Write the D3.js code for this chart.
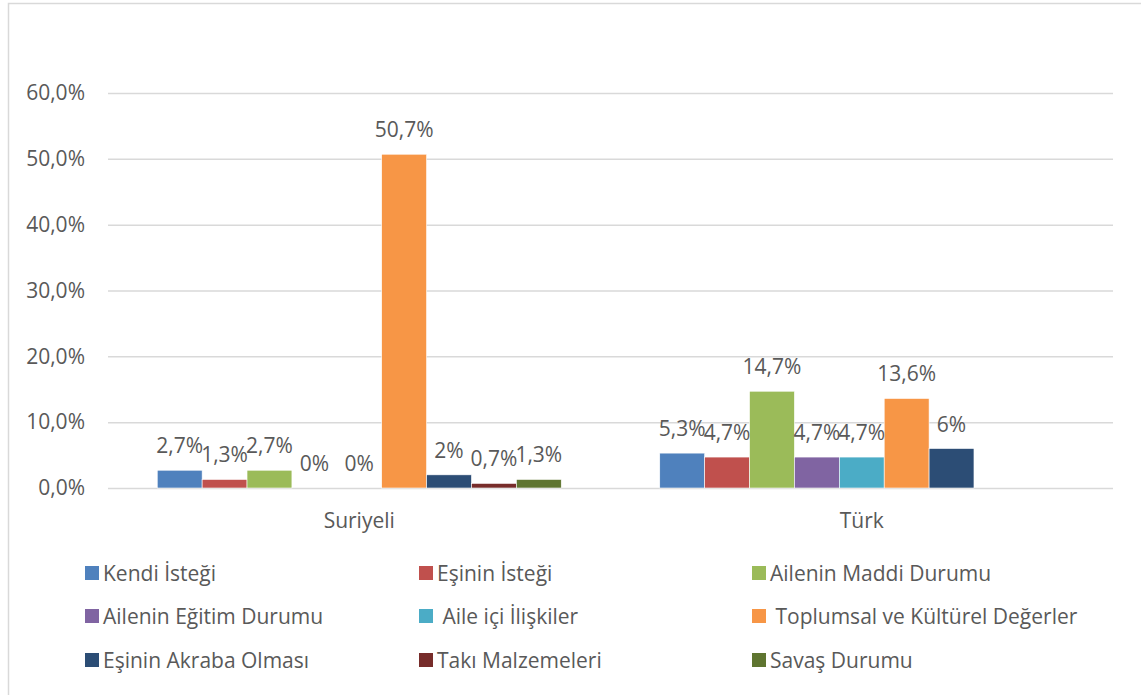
<!DOCTYPE html>
<html lang="tr">
<head>
<meta charset="utf-8" />
<script src="https://d3js.org/d3.v7.min.js"></script>
<style>
  html, body { margin: 0; padding: 0; background: #fff; }
  svg { font-family: "Open Sans", sans-serif; }
  .tick text, .lbl, .leg text { fill: #595959; }
</style>
</head>
<body>
<svg id="chart" width="1141" height="695"></svg>
<script>
var categories = ["Suriyeli", "Türk"];
var seriesNames = ["Kendi İsteği", "Eşinin İsteği", "Ailenin Maddi Durumu",
  "Ailenin Eğitim Durumu", " Aile içi İlişkiler", " Toplumsal ve Kültürel Değerler",
  "Eşinin Akraba Olması", "Takı Malzemeleri", "Savaş Durumu"];
var seriesColors = ["#4f81bd", "#c0504d", "#9bbb59", "#8064a2", "#4bacc6",
  "#f79646", "#2c4d75", "#772c2a", "#5f7530"];
// one array per category, in series order (null = no value shown)
var suriyeliValues = [2.7, 1.3, 2.7, 0, 0, 50.7, 2, 0.7, 1.3];
var turkValues = [5.3, 4.7, 14.7, 4.7, 4.7, 13.6, 6, null, null];
var suriyeliLabels = ["2,7%", "1,3%", "2,7%", "0%", "0%", "50,7%", "2%", "0,7%", "1,3%"];
var turkLabels = ["5,3%", "4,7%", "14,7%", "4,7%", "4,7%", "13,6%", "6%", "", ""];
var yTicks = [0, 10, 20, 30, 40, 50, 60];

var values = [suriyeliValues, turkValues];
var labels = [suriyeliLabels, turkLabels];
var fs = 21;

var svg = d3.select("#chart");

// outer frame (only left and top edges visible in the crop)
svg.append("path")
    .attr("d", "M8.5,695 V3.5 H1141")
    .attr("fill", "none")
    .attr("stroke", "#d9d9d9")
    .attr("stroke-width", 1.5);

var x0 = d3.scaleBand()
    .domain(categories)
    .range([108, 1113])
    .paddingInner(0.196)
    .paddingOuter(0.098);

var x1 = d3.scaleBand()
    .domain(d3.range(seriesNames.length))
    .range([0, x0.bandwidth()]);

var y = d3.scaleLinear()
    .domain([0, 60])
    .range([488, 93]);

var yAxis = svg.append("g")
    .attr("transform", "translate(108,0)")
    .call(d3.axisLeft(y)
      .tickValues(yTicks)
      .tickSize(-1005)
      .tickPadding(23)
      .tickFormat(function(d) { return d.toFixed(1).replace(".", ",") + "%"; }));
yAxis.select(".domain").remove();
yAxis.selectAll(".tick line").attr("stroke", "#d9d9d9").attr("stroke-width", 1.5);
yAxis.selectAll(".tick text").attr("font-size", fs).attr("font-family", "Open Sans");

var groups = svg.selectAll("g.cat")
  .data(categories)
  .enter().append("g")
    .attr("class", "cat")
    .attr("transform", function(d) { return "translate(" + x0(d) + ",0)"; });

groups.selectAll("rect")
  .data(function(d, i) {
    return values[i].map(function(v, j) { return { j: j, v: v, label: labels[i][j] }; });
  })
  .enter().filter(function(d) { return d.v !== null && d.v > 0; }).append("rect")
    .attr("x", function(d) { return x1(d.j); })
    .attr("y", function(d) { return y(d.v); })
    .attr("width", x1.bandwidth())
    .attr("height", function(d) { return y(0) - y(d.v); })
    .attr("fill", function(d) { return seriesColors[d.j]; })
    .attr("stroke", "#fff")
    .attr("stroke-width", 0.6);

groups.selectAll("text.lbl")
  .data(function(d, i) {
    return values[i].map(function(v, j) { return { j: j, v: v, label: labels[i][j] }; });
  })
  .enter().filter(function(d) { return d.v !== null; }).append("text")
    .attr("class", "lbl")
    .attr("x", function(d) { return x1(d.j) + x1.bandwidth() / 2; })
    .attr("y", function(d) { return y(d.v) - 17; })
    .attr("text-anchor", "middle")
    .attr("font-size", fs)
    .text(function(d) { return d.label; });

svg.selectAll("text.cat")
  .data(categories)
  .enter().append("text")
    .attr("class", "lbl")
    .attr("x", function(d) { return x0(d) + x0.bandwidth() / 2; })
    .attr("y", 528)
    .attr("text-anchor", "middle")
    .attr("font-size", fs)
    .text(function(d) { return d; });

// legend: 3 columns x 3 rows
var legCols = [85, 419, 752];
var legRows = [573, 616, 660];
var leg = svg.selectAll("g.leg")
  .data(seriesNames)
  .enter().append("g")
    .attr("class", "leg")
    .attr("transform", function(d, i) {
      return "translate(" + legCols[i % 3] + "," + legRows[Math.floor(i / 3)] + ")";
    });
leg.append("rect")
    .attr("y", -7)
    .attr("width", 14)
    .attr("height", 14)
    .attr("fill", function(d, i) { return seriesColors[i]; });
leg.append("text")
    .attr("x", 18)
    .attr("y", 7.5)
    .attr("font-size", fs)
    .style("white-space", "pre")
    .text(function(d) { return d; });
</script>
</body>
</html>
